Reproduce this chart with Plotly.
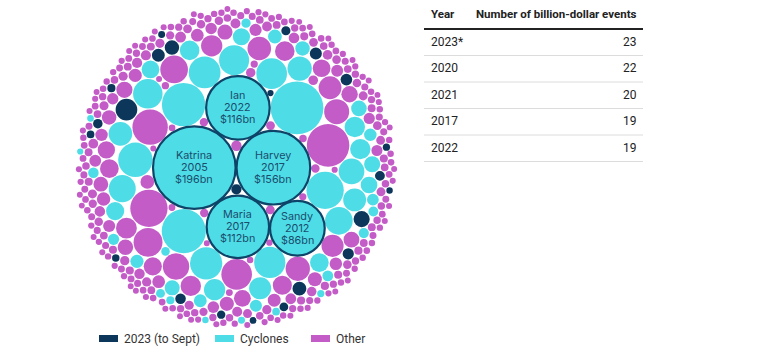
import numpy as np
import plotly.graph_objects as go

# ---------------- data ----------------
categories = ["2023 (to Sept)", "Cyclones", "Other"]
category_colors = ["#0c375a", "#4edde6", "#c45cc7"]

named_names = ["Katrina", "Harvey", "Ian", "Maria", "Sandy"]
named_years = [2005, 2017, 2022, 2017, 2012]

# cost of each event, US$bn (first five are the named cyclones)
cyclone_costs = [
    196, 156, 116, 112, 86, 80, 56, 54, 40, 34,
    30, 29, 28, 27, 26, 25, 22, 21, 19, 17,
    16, 15, 14, 13, 12, 12, 11, 10, 9.5, 9,
    8.5, 8, 7.5, 7, 6.5, 6, 5.5, 5, 4.8, 4.5,
    4.2, 4.0, 3.6, 3.4, 3.2, 3.0, 2.8, 2.5, 2.3, 2.1,
    1.9, 1.7, 1.5, 1.4, 1.3, 1.2, 1.1,
]

events_2023_costs = [
    13.5, 7.5, 6.0, 5.5, 4.8, 4.2, 3.9, 3.6, 3.2, 3.0,
    2.8, 2.6, 2.4, 2.2, 2.0, 1.9, 1.7, 1.6, 1.5, 1.4,
    1.3, 1.2, 1.1,
]

other_costs = [
    52.0, 40.0, 36.0, 27.0, 24.0, 22.0, 20.0, 18.0, 17.0, 16.0,
    15.0, 14.0, 13.0, 12.5, 12.0, 11.0, 10.5, 10.0, 9.5, 9.0,
    8.6, 8.2, 7.8, 7.5, 7.2, 6.9, 6.6, 6.3, 6.0, 5.8,
    5.6, 5.4, 5.2, 5.0, 4.8, 4.7, 4.6, 4.5, 4.4, 4.3,
    4.2, 4.1, 4.0, 3.9, 3.8, 3.7, 3.6, 3.5, 3.4, 3.35,
    3.3, 3.2, 3.15, 3.1, 3.0, 2.95, 2.9, 2.85, 2.8, 2.75,
    2.7, 2.65, 2.6, 2.55, 2.5,
    2.48, 2.46, 2.44, 2.42, 2.4, 2.38, 2.36, 2.34, 2.32, 2.3,
    2.28, 2.26, 2.24, 2.22, 2.2, 2.18, 2.16, 2.14, 2.12, 2.1,
    2.08, 2.06, 2.05, 2.03, 2.02, 2.0, 1.98, 1.97, 1.95, 1.94,
    1.92, 1.91, 1.9, 1.88, 1.87, 1.86, 1.84, 1.83, 1.82, 1.8,
    1.79, 1.78, 1.77, 1.76, 1.75, 1.74, 1.73, 1.72, 1.71, 1.7,
    1.69, 1.68, 1.67, 1.66, 1.65, 1.64, 1.63, 1.62, 1.61, 1.6,
    1.59, 1.58, 1.57, 1.56, 1.55, 1.54, 1.53, 1.52, 1.51, 1.5,
    1.49, 1.48, 1.47, 1.46, 1.45, 1.45, 1.44, 1.43, 1.42, 1.41,
    1.4, 1.39, 1.39, 1.38, 1.37, 1.36, 1.36, 1.35, 1.34, 1.33,
    1.33, 1.32, 1.31, 1.3, 1.3, 1.29, 1.28, 1.28, 1.27, 1.26,
    1.26, 1.25, 1.24, 1.24, 1.23, 1.22, 1.22, 1.21, 1.2, 1.2,
    1.19, 1.19, 1.18, 1.18, 1.17, 1.16, 1.16, 1.15, 1.15, 1.14,
    1.14, 1.13, 1.13, 1.12, 1.12, 1.11, 1.11, 1.1, 1.1, 1.09,
    1.09, 1.08, 1.08, 1.07, 1.07, 1.07, 1.06, 1.06, 1.05, 1.05,
    1.05, 1.04, 1.04, 1.04, 1.03, 1.03, 1.03, 1.02, 1.02, 1.02,
    1.02, 1.01, 1.01, 1.01, 1.01, 1.0, 1.0, 1.0, 1.0, 1.0,
    1.58, 1.56, 1.54, 1.52, 1.5, 1.48, 1.46, 1.44, 1.42, 1.4,
    1.38, 1.36, 1.34, 1.32, 1.3, 1.28, 1.26, 1.24, 1.22, 1.2,
    1.19, 1.18, 1.17, 1.16, 1.15, 1.14, 1.13, 1.12, 1.11, 1.1,
    1.09, 1.08, 1.07, 1.06, 1.05, 1.04, 1.03, 1.02, 1.01, 1.0,
    1.27, 1.23, 1.21, 1.17, 1.13, 1.09, 1.06, 1.04, 1.02, 1.0,
    1.35, 1.31, 1.25, 1.19, 1.15,
]

table_years = ["2023*", "2020", "2021", "2017", "2022"]
table_counts = [23, 22, 20, 19, 19]
table_headers = ["Year", "Number of billion-dollar events"]

# ---------------- circle packing (greedy, closest to centre) ----------------
values = np.array(events_2023_costs + cyclone_costs + other_costs, dtype=float)
cats = np.array([0] * len(events_2023_costs) + [1] * len(cyclone_costs) + [2] * len(other_costs))
radii = np.sqrt(values)
PAD = 0.32


def pack(rad, pad):
    n = len(rad)
    order = np.argsort(-rad, kind="stable")
    X = np.zeros(n)
    Y = np.zeros(n)
    a0, a1 = order[0], order[1]
    X[a0] = -(rad[a0] + pad / 2)
    X[a1] = rad[a1] + pad / 2
    placed = [a0, a1]
    for k in order[2:]:
        r = rad[k]
        P = np.array(placed)
        px, py, pr = X[P], Y[P], rad[P]
        dx = px[None, :] - px[:, None]
        dy = py[None, :] - py[:, None]
        d = np.hypot(dx, dy)
        near = np.triu(d < pr[:, None] + pr[None, :] + 2 * r + 2 * pad, 1)
        ia, ib = np.where(near)
        ra = pr[ia] + r + pad
        rb = pr[ib] + r + pad
        dd = d[ia, ib]
        ok = (dd <= ra + rb) & (dd >= np.abs(ra - rb)) & (dd > 0)
        ia, ib, ra, rb, dd = ia[ok], ib[ok], ra[ok], rb[ok], dd[ok]
        aa = (ra ** 2 - rb ** 2 + dd ** 2) / (2 * dd)
        h = np.sqrt(np.maximum(ra ** 2 - aa ** 2, 0))
        ux = (px[ib] - px[ia]) / dd
        uy = (py[ib] - py[ia]) / dd
        mx = px[ia] + aa * ux
        my = py[ia] + aa * uy
        cx = np.concatenate([mx - h * uy, mx + h * uy])
        cy = np.concatenate([my + h * ux, my - h * ux])
        dist = np.hypot(cx[:, None] - px[None, :], cy[:, None] - py[None, :])
        good = np.all(dist >= pr[None, :] + r + pad - 1e-6, axis=1)
        cx, cy = cx[good], cy[good]
        j = np.argmin(cx ** 2 + cy ** 2)
        X[k], Y[k] = cx[j], cy[j]
        placed.append(k)
    return X, Y, order


X, Y, order = pack(radii, PAD)
ian_idx = order[2]
if Y[ian_idx] < 0:
    Y = -Y

# ---------------- mapping to the page ----------------
W, H = 770, 354
CX_PX, CY_PX, R_PX = 236.5, 167.0, 161.0
xmin, xmax = np.min(X - radii), np.max(X + radii)
ymin, ymax = np.min(Y - radii), np.max(Y + radii)
cx0, cy0 = (xmin + xmax) / 2, (ymin + ymax) / 2
half = max(xmax - xmin, ymax - ymin) / 2
s = R_PX / half
x_range = [cx0 - CX_PX / s, cx0 + (W - CX_PX) / s]
y_range = [cy0 - (H - CY_PX) / s, cy0 + CY_PX / s]

fig = go.Figure()

named_set = {order[i]: i for i in range(5)}
shapes = []
for i in range(len(values)):
    col = category_colors[cats[i]]
    if i in named_set:
        continue
    shapes.append(dict(type="circle", xref="x", yref="y",
                       x0=X[i] - radii[i], x1=X[i] + radii[i],
                       y0=Y[i] - radii[i], y1=Y[i] + radii[i],
                       fillcolor=col, line=dict(width=0), layer="above"))

annotations = []
label_font = dict(family="Inter, Roboto, sans-serif", size=10.8, color="#1a4c6e")
for i, pos in named_set.items():
    shapes.append(dict(type="circle", xref="x", yref="y",
                       x0=X[i] - radii[i], x1=X[i] + radii[i],
                       y0=Y[i] - radii[i], y1=Y[i] + radii[i],
                       fillcolor=category_colors[1],
                       line=dict(width=2.2, color="#0d4468"), layer="above"))
    lines = [named_names[pos], str(named_years[pos]), f"${values[i]:.0f}bn"]
    for li, txt in enumerate(lines):
        annotations.append(dict(x=X[i], y=Y[i], xref="x", yref="y", text=txt,
                                showarrow=False, font=label_font,
                                xanchor="center", yanchor="middle",
                                yshift=(1 - li) * 12))

# hover layer with the circle centres
fig.add_trace(go.Scatter(x=X, y=Y, mode="markers",
                         marker=dict(size=2, opacity=0),
                         text=[f"{categories[c]}: ${v}bn" for c, v in zip(cats, values)],
                         hoverinfo="text", showlegend=False))

# ---------------- table ----------------
def px_x(v):
    return v / W


def px_y(v):
    return 1 - v / H


tfont = dict(family="Roboto, sans-serif", size=12, color="#222222")
hfont = dict(family="Roboto, sans-serif", size=11.5, color="#222222")
annotations.append(dict(x=px_x(429), y=px_y(14), xref="paper", yref="paper",
                        text="<b>" + table_headers[0] + "</b>", showarrow=False,
                        xanchor="left", yanchor="middle", font=hfont))
annotations.append(dict(x=px_x(639), y=px_y(14), xref="paper", yref="paper",
                        text="<b>" + table_headers[1] + "</b>", showarrow=False,
                        xanchor="right", yanchor="middle", font=hfont))
shapes.append(dict(type="line", xref="paper", yref="paper",
                   x0=px_x(424), x1=px_x(643), y0=px_y(29), y1=px_y(29),
                   line=dict(color="#222222", width=2)))
row_y = [42, 68.5, 95, 121.5, 148]
for k, (yr, cnt) in enumerate(zip(table_years, table_counts)):
    annotations.append(dict(x=px_x(429), y=px_y(row_y[k]), xref="paper", yref="paper",
                            text=yr, showarrow=False, xanchor="left", yanchor="middle",
                            font=tfont))
    annotations.append(dict(x=px_x(639), y=px_y(row_y[k]), xref="paper", yref="paper",
                            text=str(cnt), showarrow=False, xanchor="right",
                            yanchor="middle", font=tfont))
    ly = row_y[k] + 13.5
    shapes.append(dict(type="line", xref="paper", yref="paper",
                       x0=px_x(424), x1=px_x(643), y0=px_y(ly), y1=px_y(ly),
                       line=dict(color="#dcdcdc", width=1)))

# ---------------- legend ----------------
leg_x = [99, 215, 311]
lfont = dict(family="Roboto, sans-serif", size=12, color="#333333")
for k, name in enumerate(categories):
    shapes.append(dict(type="rect", xref="paper", yref="paper",
                       x0=px_x(leg_x[k]), x1=px_x(leg_x[k] + 19),
                       y0=px_y(342), y1=px_y(335),
                       fillcolor=category_colors[k], line=dict(width=0)))
    annotations.append(dict(x=px_x(leg_x[k] + 23), y=px_y(339), xref="paper", yref="paper",
                            text=name, showarrow=False, xanchor="left", yanchor="middle",
                            font=lfont))

fig.update_layout(
    width=W, height=H, autosize=False,
    margin=dict(l=0, r=0, t=0, b=0),
    paper_bgcolor="white", plot_bgcolor="white",
    xaxis=dict(range=x_range, visible=False, showgrid=False, zeroline=False, fixedrange=True),
    yaxis=dict(range=y_range, visible=False, showgrid=False, zeroline=False, fixedrange=True),
    shapes=shapes, annotations=annotations, showlegend=False,
)

fig.write_html("out.html", config={"displayModeBar": False})
